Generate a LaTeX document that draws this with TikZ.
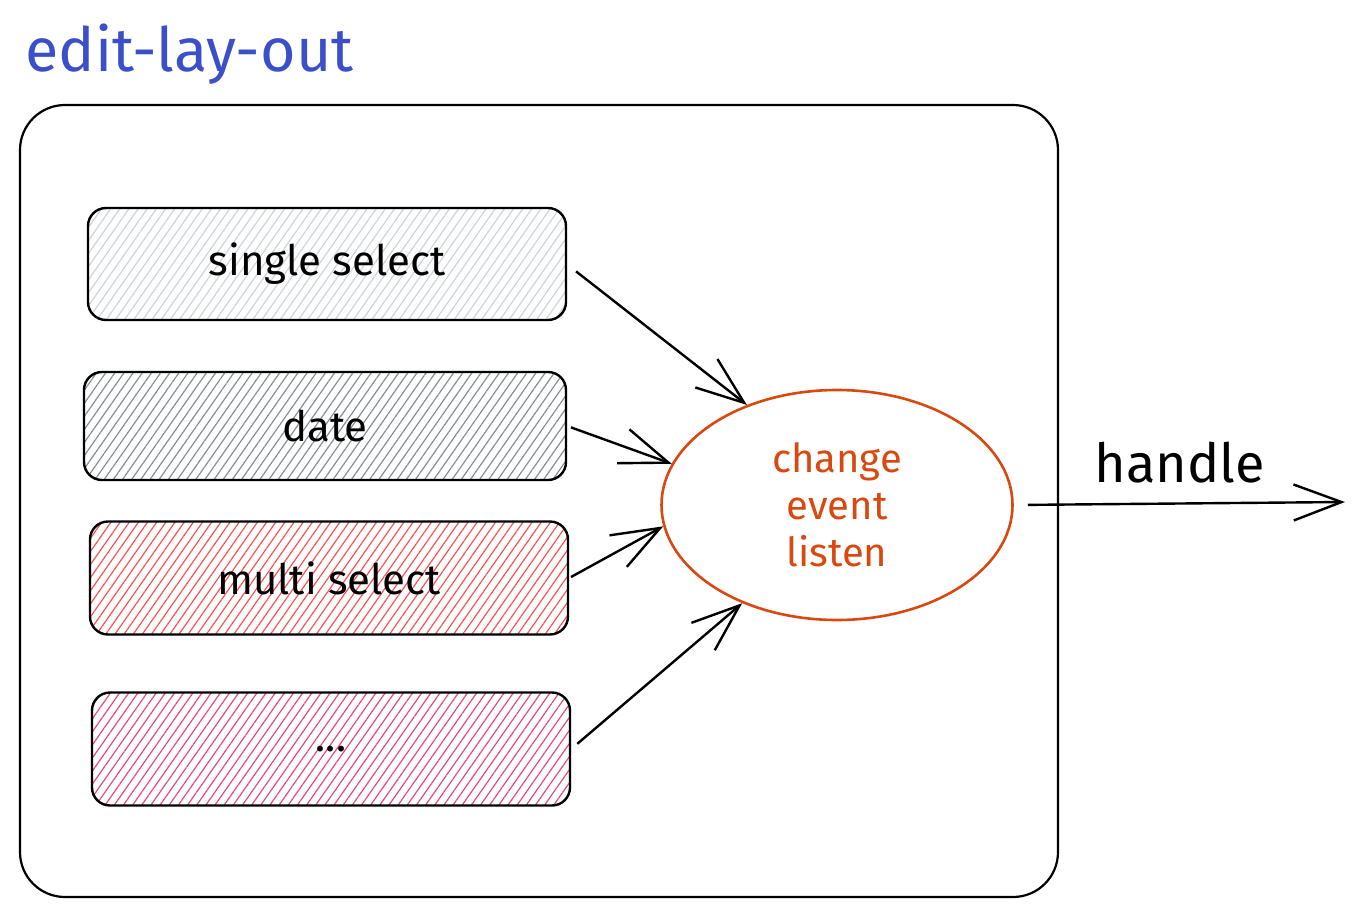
\documentclass[tikz,border=0pt]{standalone}
\usepackage{fontspec}
\setmainfont{Fira Sans}
\usetikzlibrary{arrows.meta,patterns.meta,shapes.geometric,positioning}

\definecolor{titleblue}{RGB}{59,79,201}
\definecolor{evorange}{RGB}{217,72,15}
\definecolor{hatchgray}{RGB}{206,212,218}
\definecolor{hatchdark}{RGB}{134,142,150}
\definecolor{hatchred}{RGB}{250,82,82}
\definecolor{hatchpink}{RGB}{230,73,128}

\tikzset{
  field/.style={draw=black, line width=2.4pt, rounded corners=18pt,
    minimum width=478pt, minimum height=112pt, font=\fontsize{42}{46}\selectfont},
  hatch/.style={pattern={Lines[angle=55,distance=7.5pt,line width=1.2pt]}, pattern color=#1},
  sketch arrow/.style={line width=2.4pt, -{Straight Barb[length=48pt,width=36pt,line width=2.4pt]}},
}

\begin{document}
\begin{tikzpicture}[x=1pt,y=1pt,yscale=-1]
\useasboundingbox (0,0) rectangle (1363,916);

%Frame
\node[draw, line width=2.2pt, rounded corners=45pt, minimum width=1038pt, minimum height=792pt] (frame) at (539,501) {};
% Title
\node[anchor=west, text=titleblue, font=\fontsize{61}{66}\selectfont] (title) at (22,54) {edit-lay-out};

%Fields
\node[field, hatch=hatchgray] (single) at (327,264) {single select};
\node[field, hatch=hatchdark, minimum width=482pt, minimum height=108pt] (date) at (325,426) {date};
\node[field, hatch=hatchred, minimum height=113pt] (multi) at (329,578) {multi select};
\node[field, hatch=hatchpink, minimum height=113pt] (dots) at (331,749) {...};

%Listener
\node[ellipse, draw=evorange, line width=2.6pt, minimum width=351pt, minimum height=230pt,
  text=evorange, align=center, font=\fontsize{40}{47}\selectfont] (ev) at (837,505) {change\\event\\listen};

%Arrows
\draw[sketch arrow, shorten <=12pt] (single.east) -- (ev.132);
\draw[sketch arrow, shorten <=4pt] (date.east) -- (ev.166);
\draw[sketch arrow, shorten <=2pt] (multi.east) -- (ev.187);
\draw[sketch arrow, shorten <=8pt] (dots.east) -- (ev.226);

\coordinate (out) at (1345,502);
\draw[sketch arrow, shorten <=14pt] (ev.east) -- (out)
  node[midway, above=16pt, font=\fontsize{54}{58}\selectfont] (handle) {handle};

\end{tikzpicture}
\end{document}
